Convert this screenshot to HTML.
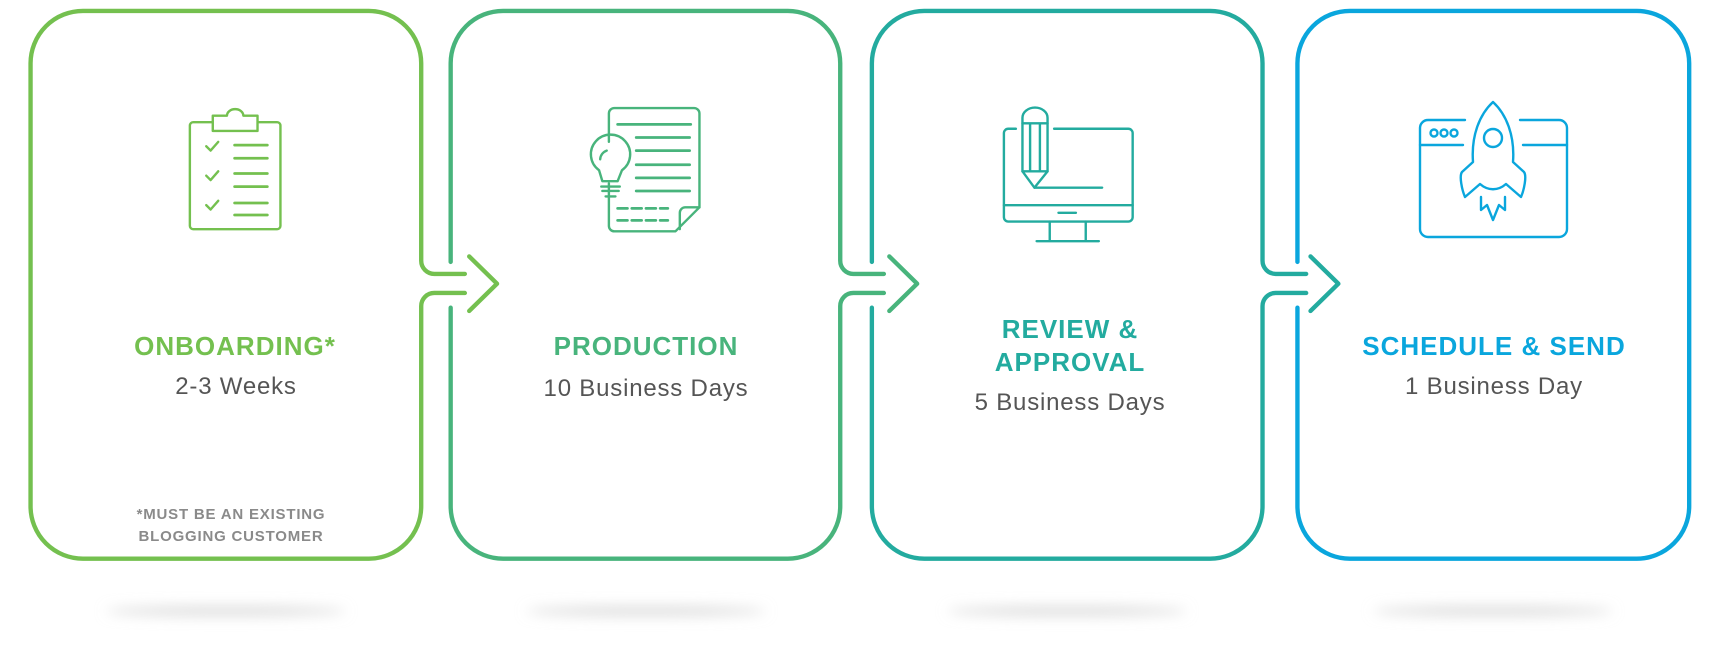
<!DOCTYPE html>
<html><head><meta charset="utf-8"><style>
html,body{margin:0;padding:0;background:#fff;}
svg{display:block;}
text{font-family:"Liberation Sans",Arial,sans-serif;}
</style></head><body>
<svg width="1711" height="672" viewBox="0 0 1711 672" xmlns="http://www.w3.org/2000/svg">
<defs>
<filter id="b" x="-50%" y="-300%" width="200%" height="700%"><feGaussianBlur stdDeviation="6"/></filter>
</defs>
<g transform="scale(1.0912)">
<g fill="#d8d8d8" filter="url(#b)">
<ellipse cx="207" cy="560" rx="110" ry="4"/>
<ellipse cx="592" cy="560" rx="110" ry="4"/>
<ellipse cx="978" cy="560" rx="110" ry="4"/>
<ellipse cx="1368" cy="560" rx="110" ry="4"/>
</g>
<g fill="none" stroke-width="4" stroke-linecap="round" stroke-linejoin="round">
<g stroke="#74c04f">
<path d="M426,251 H398 A12,12 0 0 1 386,239 V58 A48,48 0 0 0 338,10 H76 A48,48 0 0 0 28,58 V464 A48,48 0 0 0 76,512 H338 A48,48 0 0 0 386,464 V280.5 A12,12 0 0 1 398,268.5 H426"/>
<path d="M430,235 L455.5,260 L430,285"/>
</g>
<g stroke="#48b47c">
<path d="M413,240 V58 A48,48 0 0 1 461,10 H722 A48,48 0 0 1 770,58 V239 A12,12 0 0 0 782,251 H810"/>
<path d="M413,282 V464 A48,48 0 0 0 461,512 H722 A48,48 0 0 0 770,464 V280.5 A12,12 0 0 1 782,268.5 H810"/>
<path d="M815,235 L840.5,260 L815,285"/>
</g>
<g stroke="#23ab9f">
<path d="M799,240 V58 A48,48 0 0 1 847,10 H1109 A48,48 0 0 1 1157,58 V239 A12,12 0 0 0 1169,251 H1197"/>
<path d="M799,282 V464 A48,48 0 0 0 847,512 H1109 A48,48 0 0 0 1157,464 V280.5 A12,12 0 0 1 1169,268.5 H1197"/>
<path d="M1201,235 L1226.5,260 L1201,285"/>
</g>
<g stroke="#0aa6dd">
<path d="M1189,240 V58 A48,48 0 0 1 1237,10 H1500 A48,48 0 0 1 1548,58 V464 A48,48 0 0 1 1500,512 H1237 A48,48 0 0 1 1189,464 V282"/>
</g>
</g>
<g fill="none" stroke="#74c04f" stroke-width="2.2" stroke-linecap="round" stroke-linejoin="round">
<rect x="174" y="112" width="83" height="98" rx="3"/>
<path d="M195,112 V106 H208 A7.5,6 0 0 1 223,106 H236 V120 H195 Z" fill="#fff"/>
<path d="M189,134 l4,4 l7,-8 M189,161 l4,4 l7,-8 M189,188 l4,4 l7,-8"/>
<path d="M215,133 H245 M215,145 H245 M215,159 H245 M215,171 H245 M215,186 H245 M215,197 H245" stroke-width="2.5"/>
</g>
<g fill="none" stroke="#48b47c" stroke-width="2.2" stroke-linecap="round" stroke-linejoin="round">
<path d="M558,130 V104 A5,5 0 0 1 563,99 H636 A5,5 0 0 1 641,104 V190 L619,212 H563 A5,5 0 0 1 558,207 V168"/>
<path d="M641,190 H628 A5,5 0 0 0 623,195 V210"/>
<path d="M566,114 H633 M583,126 H632 M583,138 H632 M583,151 H632 M583,163 H632 M583,175 H632" stroke-width="2.5"/>
<path d="M566,191 H612 M566,202 H612" stroke-dasharray="9,4" stroke-width="2.5"/>
<path d="M552,166 L549,156 A18,18 0 1 1 570,156 L566,166 Z"/>
<path d="M551,171 H568 M552,175 H567 M555,180 H564"/>
<path d="M550,146 A9,9 0 0 1 556,138"/>
</g>
<g fill="none" stroke="#23ab9f" stroke-width="2.2" stroke-linecap="round" stroke-linejoin="round">
<path d="M931,118 H924 A4,4 0 0 0 920,122 V199 A4,4 0 0 0 924,203 H1034 A4,4 0 0 0 1038,199 V122 A4,4 0 0 0 1034,118 H966"/>
<path d="M920,188 H1038 M970,195 H986 M962,203 V220 M995,203 V220 M950,221 H1007"/>
<path d="M937,157 V108 A11,9 0 0 1 960,108 V157 L948,172 Z" fill="#fff"/>
<path d="M937,113 H960 M944,113 V157 M953,113 V157 M937,157 H960"/>
<path d="M948,172 H1010"/>
</g>
</g>
<g fill="none" stroke="#0aa6dd" stroke-width="2.4" stroke-linecap="round" stroke-linejoin="round">
<path d="M1465,120 H1428 A8,8 0 0 0 1420,128 V229 A8,8 0 0 0 1428,237 H1559 A8,8 0 0 0 1567,229 V128 A8,8 0 0 0 1559,120 H1520"/>
<path d="M1420,145 H1463 M1523,145 H1567"/>
<circle cx="1434" cy="133" r="3.5"/><circle cx="1444" cy="133" r="3.5"/><circle cx="1454" cy="133" r="3.5"/>
<path d="M1493,102 C1480,114 1471,135 1473,162 L1462,172 C1459,176 1462,190 1465,197 L1480,184 C1488,191 1498,191 1506,184 L1521,197 C1524,190 1527,176 1524,172 L1513,162 C1515,135 1506,114 1493,102 Z"/>
<circle cx="1493" cy="138" r="9"/>
<path d="M1481,197 V210 L1487,205 L1493,220 L1499,205 L1505,210 V197"/>
</g>
<g text-anchor="middle">
<text x="235" y="355" font-size="26" font-weight="bold" fill="#74c04f" letter-spacing="1">ONBOARDING*</text>
<text x="236" y="394" font-size="24" fill="#555" letter-spacing="0.8">2-3 Weeks</text>
<text x="231" y="519" font-size="15" font-weight="bold" fill="#8a8a8a" letter-spacing="0.8">*MUST BE AN EXISTING</text>
<text x="231" y="541" font-size="15" font-weight="bold" fill="#8a8a8a" letter-spacing="0.8">BLOGGING CUSTOMER</text>
<text x="646" y="355" font-size="26" font-weight="bold" fill="#48b47c" letter-spacing="1">PRODUCTION</text>
<text x="646" y="396" font-size="24" fill="#555" letter-spacing="0.8">10 Business Days</text>
<text x="1070" y="338" font-size="26" font-weight="bold" fill="#23ab9f" letter-spacing="1">REVIEW &amp;</text>
<text x="1070" y="371" font-size="26" font-weight="bold" fill="#23ab9f" letter-spacing="1">APPROVAL</text>
<text x="1070" y="410" font-size="24" fill="#555" letter-spacing="0.8">5 Business Days</text>
<text x="1494" y="355" font-size="26" font-weight="bold" fill="#0aa6dd" letter-spacing="1">SCHEDULE &amp; SEND</text>
<text x="1494" y="394" font-size="24" fill="#555" letter-spacing="0.8">1 Business Day</text>
</g>
</svg>
</body></html>
